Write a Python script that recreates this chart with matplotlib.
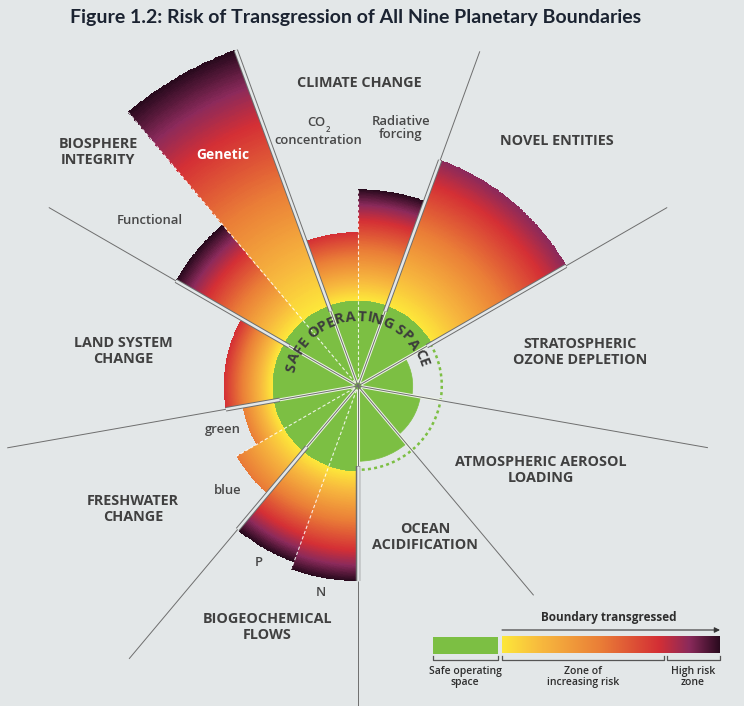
import numpy as np
import matplotlib
matplotlib.use('Agg')
import matplotlib.pyplot as plt
from matplotlib.colors import LinearSegmentedColormap
from matplotlib.patches import Rectangle
from matplotlib.textpath import TextPath
from matplotlib.font_manager import FontProperties

# sub-boundaries, angles clockwise from north (degrees), radius: safe boundary = 1
sub_names = ['CO2 concentration', 'Radiative forcing', 'Novel entities',
             'Stratospheric ozone depletion', 'Atmospheric aerosol loading',
             'Ocean acidification', 'N', 'P', 'blue', 'green',
             'Land system change', 'Functional', 'Genetic']
sub_start = [-20, 0, 20, 60, 100, 140, 180, 200, 220, 240, 260, 300, 320]
sub_width = [20, 20, 40, 40, 40, 40, 20, 20, 20, 20, 40, 20, 20]
sub_value = [1.80, 2.30, 2.81, 0.64, 0.74, 0.88, 2.28, 2.19, 1.64, 1.37, 1.57, 2.46, 4.18]
# how far along the risk colour scale the tip of each bar sits
risk_end = [0.72, 1.0, 0.86, 0, 0, 0, 1.0, 1.0, 0.47, 0.45, 0.72, 1.0, 1.0]

dividers = [-20, 20, 60, 100, 140, 180, 220, 260, 300]
divider_len = [4.16, 4.16, 4.17, 4.15, 3.19, 3.76, 4.16, 4.16, 4.17]
sub_dividers = [0, 200, 240, 320]

main_labels = ['CLIMATE CHANGE', 'NOVEL ENTITIES', 'STRATOSPHERIC\nOZONE DEPLETION',
               'ATMOSPHERIC AEROSOL\nLOADING', 'OCEAN\nACIDIFICATION',
               'BIOGEOCHEMICAL\nFLOWS', 'FRESHWATER\nCHANGE', 'LAND SYSTEM\nCHANGE',
               'BIOSPHERE\nINTEGRITY']
main_xy = [(359, 83), (557, 141), (580, 352), (541, 470), (425, 537),
           (267, 627), (133, 509), (123, 351), (98, 152)]
small_labels = ['concentration', 'Radiative\nforcing', 'Functional', 'green', 'blue', 'P', 'N']
small_xy = [(318, 140), (401, 128), (150, 220), (223, 430), (228, 490), (259, 563), (321, 592)]

risk_colors = [(0.0, '#fde73a'), (0.18, '#f7b83e'), (0.45, '#ea7e37'),
               (0.72, '#d42f35'), (0.86, '#8b2a5b'), (1.0, '#2a0a1e')]
risk_cmap = LinearSegmentedColormap.from_list('risk', risk_colors)

bg = '#e3e7e8'
green = '#7cbf43'
line_gray = '#6e6e6e'
text_gray = '#404040'

W, H = 744, 706
cx, cy = 358, 386
unit = 85.5          # pixels per boundary unit
R_px = 400

fig = plt.figure(figsize=(W / 100, H / 100), dpi=100, facecolor=bg)
ax = fig.add_axes([(cx - R_px) / W, (H - cy - R_px) / H, 2 * R_px / W, 2 * R_px / H],
                  projection='polar')
ax.set_theta_zero_location('N')
ax.set_theta_direction(-1)
ax.set_axis_off()

# green safe part of every bar
for s, w, v in zip(sub_start, sub_width, sub_value):
    ax.bar(np.radians(s), min(v, 1.0), width=np.radians(w), bottom=0, align='edge',
           color=green, edgecolor=green, linewidth=0.5, zorder=1)

# gradient part beyond the boundary
for s, w, v, e in zip(sub_start, sub_width, sub_value, risk_end):
    if v <= 1.0:
        continue
    nt = int(w * 2)
    nr = 150
    th = np.radians(np.linspace(s, s + w, nt + 1))
    rr = np.linspace(1.0, v, nr + 1)
    T, R = np.meshgrid(th, rr)
    rc = 0.5 * (rr[:-1] + rr[1:])
    level = e * (rc - 1.0) / (v - 1.0)
    C = np.repeat(level[:, None], nt, axis=1)
    ax.pcolormesh(T, R, C, cmap=risk_cmap, vmin=0, vmax=1, shading='flat',
                  antialiased=False, zorder=2)

# dashed boundary circle where not transgressed
arc = np.radians(np.linspace(60, 178, 200))
ax.plot(arc, np.full_like(arc, 0.98), color=green, lw=1.8, dashes=(1.2, 1.3), zorder=3)

# dashed white lines between sub-boundaries
for a in sub_dividers:
    near = [v for s, w, v in zip(sub_start, sub_width, sub_value)
            if abs((s - a) % 360) < 1e-6 or abs((s + w - a) % 360) < 1e-6]
    ax.plot([np.radians(a)] * 2, [0.05, max(near)], color='white', lw=0.8,
            dashes=(3, 2), alpha=0.85, zorder=3)

# divider lines between the nine boundaries
for a, L in zip(dividers, divider_len):
    t = np.radians(a)
    near = [v for s, w, v in zip(sub_start, sub_width, sub_value)
            if abs((s - a) % 360) < 1e-6 or abs((s + w - a) % 360) < 1e-6]
    top = max(near)
    ax.plot([t, t], [0.04, 1.0], color='#eef3e6', lw=2.2, zorder=4, solid_capstyle='butt')
    ax.plot([t, t], [0, L], color=line_gray, lw=0.7, zorder=4)
    if top > 1.0:
        ax.plot([t, t], [0.93, top], color=line_gray, lw=3.2, zorder=4, solid_capstyle='butt')
        ax.plot([t, t], [0.93, top], color=bg, lw=1.8, zorder=4, solid_capstyle='butt')

ax.set_ylim(0, R_px / unit)

# curved "SAFE OPERATING SPACE"
arc_text = 'SAFE OPERATING SPACE'
fp = FontProperties(family='Open Sans', weight='bold', size=10.5)
widths = []
for ch in arc_text:
    if ch == ' ':
        widths.append(3.0)
    else:
        widths.append(TextPath((0, 0), ch, prop=fp).get_extents().width + 1.6)
widths = np.array(widths)
centers = np.cumsum(widths) - widths / 2
centers = (centers - centers[0]) / (centers[-1] - centers[0])
angles = -75 + centers * (70 + 75)
for ch, ang in zip(arc_text, angles):
    if ch == ' ':
        continue
    ax.text(np.radians(ang), 0.81, ch, rotation=-ang, rotation_mode='anchor',
            ha='center', va='center', fontproperties=fp, color='#3c3c3c', zorder=6)

# overlay axes in pixel coordinates for labels and legend
lax = fig.add_axes([0, 0, 1, 1])
lax.axis('off')

lax.text(356, 18, 'Figure 1.2: Risk of Transgression of All Nine Planetary Boundaries',
         ha='center', va='center', fontsize=14, fontweight='bold', family='Lato',
         color='#1b2331')

for lab, (x, y) in zip(main_labels, main_xy):
    lax.text(x, y, lab, ha='center', va='center', fontsize=10.4, fontweight='bold',
             family='Open Sans', color=text_gray, linespacing=1.1)

for lab, (x, y) in zip(small_labels, small_xy):
    lax.text(x, y, lab, ha='center', va='center', fontsize=9.4, fontweight='semibold',
             family='Open Sans', color='#474747', linespacing=1.02)
lax.text(325, 123, 'CO', ha='right', va='center', fontsize=9.4, fontweight='semibold',
         family='Open Sans', color='#474747')
lax.text(325.5, 129, '2', ha='left', va='center', fontsize=5.5, fontweight='semibold',
         family='Open Sans', color='#474747')
lax.text(223, 155, 'Genetic', ha='center', va='center', fontsize=10, fontweight='bold',
         family='Open Sans', color='white')

# legend
lax.add_patch(Rectangle((433.3, 637.3), 64.4, 16.2, color=green, lw=0))
lax.imshow(np.linspace(0, 1, 256)[None, :], extent=(502.3, 720, 653.5, 637.3),
           cmap=risk_cmap, aspect='auto', interpolation='bilinear')
lax.annotate('', xy=(720, 630), xytext=(502, 630),
             arrowprops=dict(arrowstyle='-|>', color='#333333', lw=0.8, mutation_scale=8,
                             shrinkA=0, shrinkB=0))
lax.text(609, 617, 'Boundary transgressed', ha='center', va='center', fontsize=8.5,
         fontweight='bold', family='Open Sans', color='#2e2e2e')
for x0, x1 in [(433.3, 497.7), (502.3, 664), (667, 720)]:
    lax.plot([x0, x0, x1, x1], [656, 660, 660, 656], color='#555555', lw=0.9)
for lab, x in [('Safe operating\nspace', 465), ('Zone of\nincreasing risk', 583),
               ('High risk\nzone', 693)]:
    lax.text(x, 677, lab, ha='center', va='center', fontsize=7.5, fontweight='semibold',
             family='Open Sans', color='#2e2e2e', linespacing=0.95)

lax.set_xlim(0, W)
lax.set_ylim(H, 0)

fig.savefig('out.png', dpi=100, facecolor=bg)
